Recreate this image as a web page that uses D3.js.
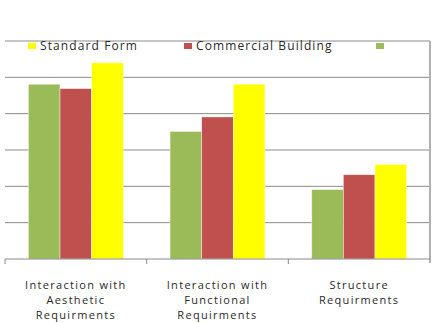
<!DOCTYPE html>
<html>
<head>
<meta charset="utf-8">
<script src="https://cdn.jsdelivr.net/npm/d3@7"></script>
<style>
  body { margin: 0; background: #fff; }
  text { font-family: "Open Sans", "DejaVu Sans", sans-serif; fill: #2a2a2a; }
</style>
</head>
<body>
<div id="chart"></div>
<script>
// chart data
var categories = [
  ['Interaction with', 'Aesthetic', 'Requirments'],
  ['Interaction with', 'Functional', 'Requirments'],
  ['Structure', 'Requirments']
];
var seriesNames = ['', 'Commercial Building', 'Standard Form'];
var seriesColors = ['#9BBB59', '#C0504D', '#FFFF00'];
var greenValues = [4.81, 3.51, 1.91];
var redValues = [4.69, 3.91, 2.32];
var yellowValues = [5.40, 4.81, 2.60];
var yTicks = [1, 2, 3, 4, 5, 6];
var legendOrder = [2, 1, 0];

var seriesValues = [greenValues, redValues, yellowValues];

const width = 433, height = 323;
const margin = { top: 41, right: 3, bottom: 64, left: 5 };

const svg = d3.select('#chart').append('svg')
  .attr('width', width).attr('height', height);

const x0 = d3.scaleBand().domain(d3.range(categories.length))
  .range([margin.left, width - margin.right]);
const x1 = d3.scaleBand().domain(d3.range(seriesValues.length))
  .range([0, x0.bandwidth()]).paddingOuter(0.74).paddingInner(0);
const y = d3.scaleLinear().domain([0, 6]).range([height - margin.bottom, margin.top]);

// gridlines
svg.append('g').selectAll('line').data(yTicks).enter().append('line')
  .attr('x1', margin.left).attr('x2', width - margin.right)
  .attr('y1', d => y(d)).attr('y2', d => y(d))
  .attr('stroke', '#8a8a8a').attr('stroke-width', 1);

// right edge
svg.append('line')
  .attr('x1', width - margin.right).attr('x2', width - margin.right)
  .attr('y1', margin.top).attr('y2', y(0) + 4)
  .attr('stroke', '#b0b0b0').attr('stroke-width', 2);

// bars
const groups = svg.append('g').selectAll('g').data(categories).enter().append('g')
  .attr('transform', (d, i) => 'translate(' + x0(i) + ',0)');
groups.selectAll('rect')
  .data((d, i) => seriesValues.map((s, j) => ({ s: j, v: s[i] })))
  .enter().append('rect')
  .attr('x', d => x1(d.s))
  .attr('y', d => y(d.v))
  .attr('width', x1.bandwidth())
  .attr('height', d => y(0) - y(d.v))
  .attr('fill', d => seriesColors[d.s])
  .attr('stroke', 'rgba(255,255,255,0.6)').attr('stroke-width', 0.7);

// x axis
const xAxis = svg.append('g').attr('transform', 'translate(0,' + y(0) + ')');
xAxis.append('line').attr('x1', margin.left).attr('x2', width - margin.right)
  .attr('stroke', '#8a8a8a');
xAxis.selectAll('.tick').data(d3.range(categories.length)).enter().append('line')
  .attr('x1', i => x0(i)).attr('x2', i => x0(i))
  .attr('y1', 0).attr('y2', 5).attr('stroke', '#8a8a8a');

// category labels, one text per line
categories.forEach(function (lines, i) {
  lines.forEach(function (ln, k) {
    svg.append('text')
      .attr('text-anchor', 'middle')
      .attr('x', x0(i) + x0.bandwidth() / 2)
      .attr('y', 288.5 + k * 15.3)
      .style('font-size', '11px')
      .style('letter-spacing', '1.3px')
      .text(ln);
  });
});

// legend
const legendX = [28, 184, 376];
legendOrder.forEach(function (s, k) {
  svg.append('rect').attr('x', legendX[k]).attr('y', 43).attr('width', 8).attr('height', 6)
    .attr('fill', seriesColors[s]);
  svg.append('text').attr('x', legendX[k] + 12).attr('y', 50)
    .style('font-size', '12px').style('letter-spacing', '1.1px')
    .text(seriesNames[s]);
});
</script>
</body>
</html>
